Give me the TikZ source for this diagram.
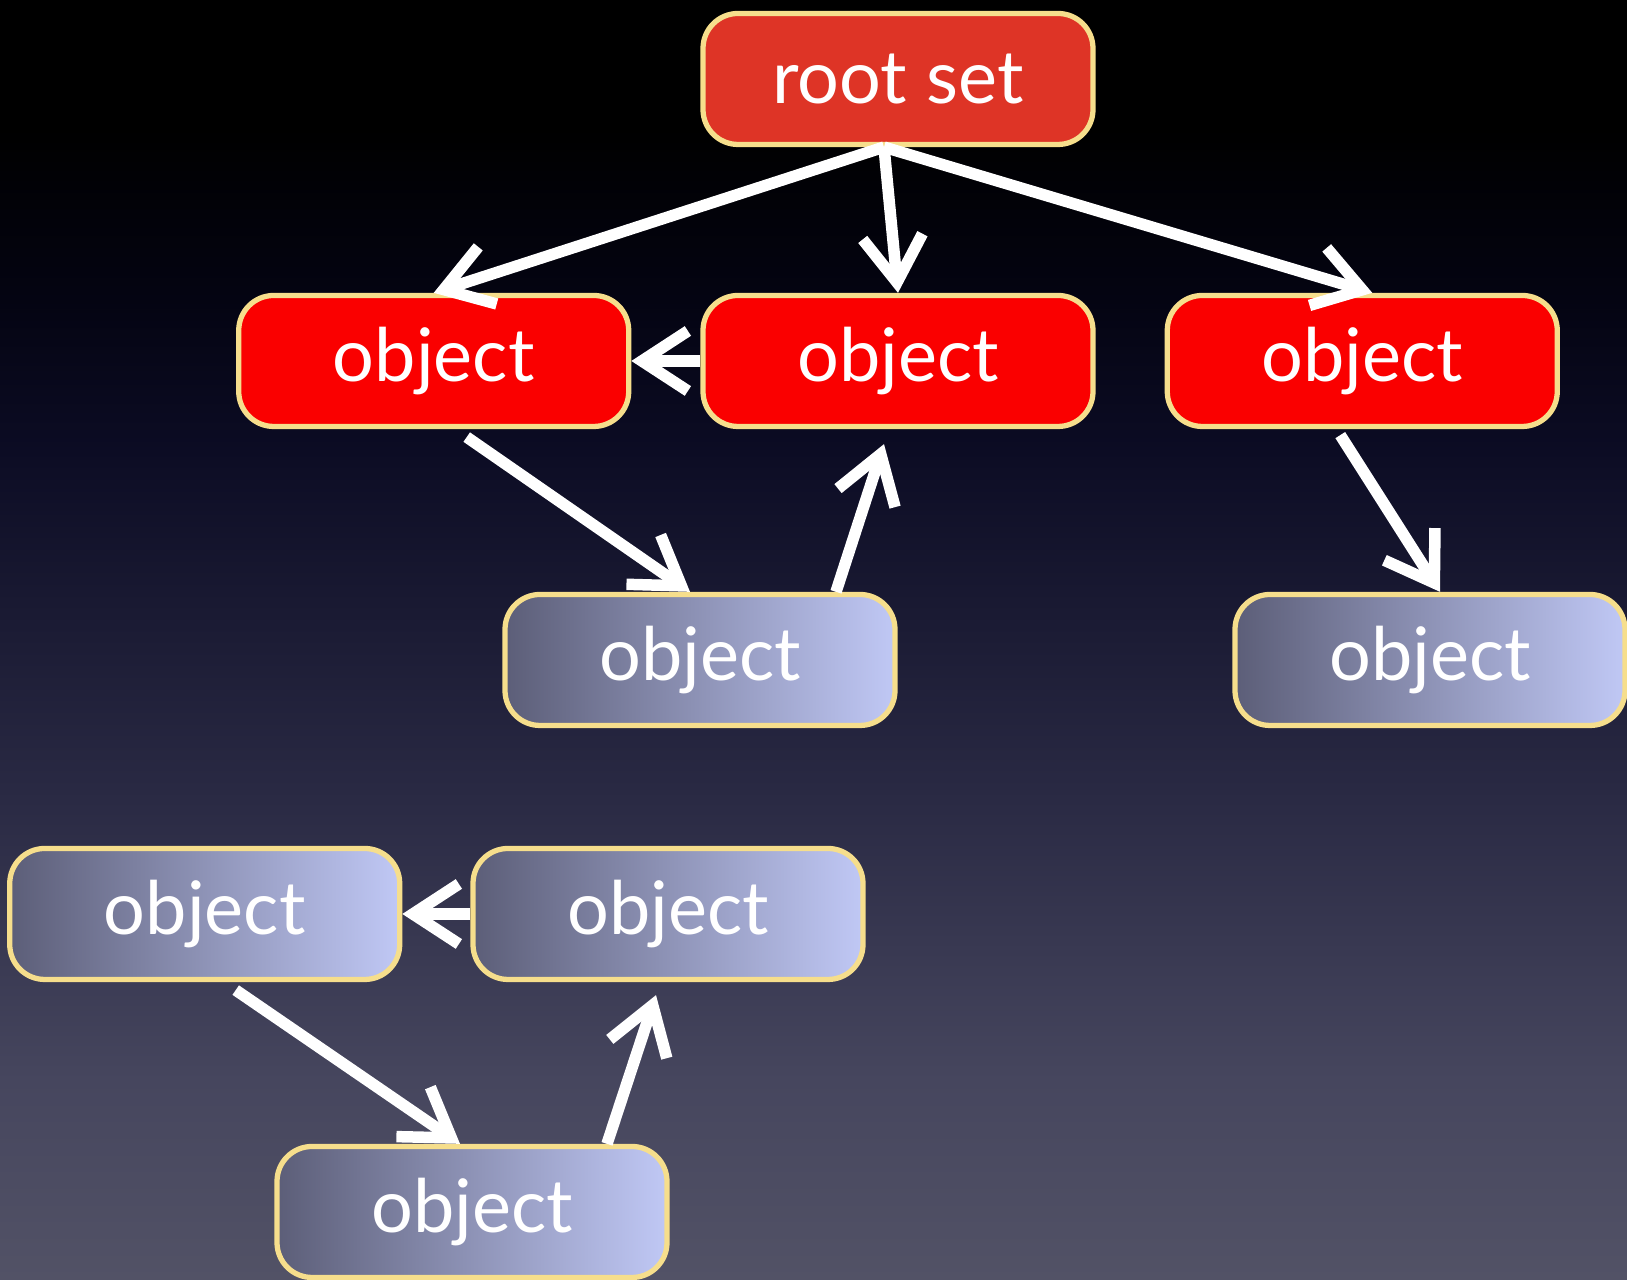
\documentclass[tikz,border=0pt]{standalone}
\usepackage{fontspec}
\setmainfont{Lato}
\usetikzlibrary{positioning,arrows.meta}
\definecolor{rimyellow}{RGB}{246,222,140}
\definecolor{rootred}{RGB}{222,52,38}
\definecolor{livered}{RGB}{250,0,0}
\definecolor{deadleft}{RGB}{92,94,120}
\definecolor{deadright}{RGB}{192,200,245}
\definecolor{bga}{RGB}{82,82,102}
\definecolor{bgb}{RGB}{70,70,94}
\definecolor{bgc}{RGB}{42,42,68}
\definecolor{bgd}{RGB}{12,12,36}
\definecolor{bge}{RGB}{4,4,18}
\pgfdeclareverticalshading{night}{100bp}{color(0bp)=(bga); color(25bp)=(bga);
  color(32.8bp)=(bgb); color(43.75bp)=(bgc); color(57.4bp)=(bgd);
  color(63.3bp)=(bge); color(70bp)=(black); color(100bp)=(black)}
\tikzset{
  obj/.style={rectangle,rounded corners=0.35cm,draw=rimyellow,line width=1.5pt,
    minimum width=3.9cm,minimum height=1.31cm,text=white,
    font=\fontsize{21}{25}\selectfont},
  root/.style={obj,fill=rootred},
  live/.style={obj,fill=livered},
  dead/.style={obj,left color=deadleft,right color=deadright},
  ref/.style={white,line width=1.15mm,-{Straight Barb[length=4.6mm,width=6mm]}},
}

\begin{document}
\begin{tikzpicture}
  \shade[shading=night] (0,0) rectangle (16.27,12.80);
  \useasboundingbox (0,0) rectangle (16.27,12.80);

  % reachable
  \node (rs) at (8.98,12.01) [root] {root set};
  \node (ob) at (8.98,9.19) [live] {object};
  \node (oa) [live,left=0.69cm of ob] {object};
  \node (oc) [live,right=0.69cm of ob] {object};
  \node (od) at (7.00,6.20) [dead] {object};
  \node (oe) at (14.30,6.20) [dead] {object};
  % garbage cycle
  \node (og) at (6.68,3.66) [dead] {object};
  \node (of) [dead,left=0.68cm of og] {object};
  \node (oh) at (4.72,0.68) [dead] {object};

  \coordinate (out) at ([xshift=-0.14cm]rs.south);
  \draw[ref] (out) -- (oa.north);
  \draw[ref] (out) -- (ob.north);
  \draw[ref] (out) -- ([xshift=0.1cm]oc.north);
  \draw[ref] (ob.west) -- (oa.east);
  \draw[ref] ([xshift=0.33cm,yshift=-0.08cm]oa.south) -- ([xshift=-0.1cm]od.north);
  \draw[ref] ([xshift=1.36cm]od.north) -- ([xshift=-0.14cm,yshift=-0.15cm]ob.south);
  \draw[ref] ([xshift=-0.22cm,yshift=-0.06cm]oc.south) -- ([xshift=0.1cm]oe.north);
  \draw[ref] (og.west) -- (of.east);
  \draw[ref] ([xshift=0.31cm,yshift=-0.08cm]of.south) -- ([xshift=-0.12cm]oh.north);
  \draw[ref] ([xshift=1.35cm]oh.north) -- ([xshift=-0.12cm,yshift=-0.13cm]og.south);
\end{tikzpicture}
\end{document}
